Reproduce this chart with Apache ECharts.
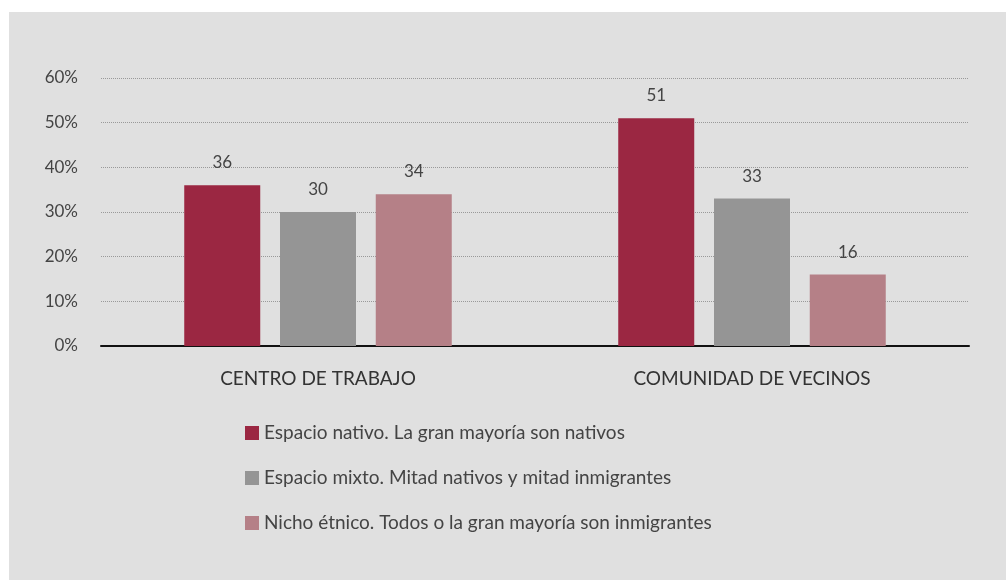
<!DOCTYPE html>
<html>
<head>
<meta charset="utf-8">
<script src="https://cdn.jsdelivr.net/npm/echarts@6/dist/echarts.min.js"></script>
<style>
html, body { margin: 0; padding: 0; background: #fff; }
#panel { position: absolute; left: 9px; top: 12px; width: 997px; height: 568px; background: #e0e0e0; }
</style>
</head>
<body>
<div id="panel"></div>
<script>
var categories = ['CENTRO DE TRABAJO', 'COMUNIDAD DE VECINOS'];
var seriesNames = [
    'Espacio nativo. La gran mayoría son nativos',
    'Espacio mixto. Mitad nativos y mitad inmigrantes',
    'Nicho étnico. Todos o la gran mayoría son inmigrantes'
];
var nativo = [36, 51];
var mixto = [30, 33];
var nicho = [34, 16];
var colors = ['#9b2742', '#959595', '#b58087'];

var values = [nativo, mixto, nicho];
var series = [];
for (var i = 0; i < seriesNames.length; i++) {
    series.push({
        name: seriesNames[i],
        type: 'bar',
        barWidth: 76,
        barGap: '26%',
        data: values[i],
        itemStyle: { color: colors[i] },
        label: {
            show: true,
            position: 'top',
            distance: 14,
            color: '#444',
            fontSize: 17,
            fontFamily: 'Lato'
        }
    });
}

var chart = echarts.init(document.getElementById('panel'));
chart.setOption({
    animation: false,
    color: colors,
    textStyle: { fontFamily: 'Lato' },
    grid: { left: 92, right: 37, top: 66, bottom: 234 },
    legend: {
        orient: 'vertical',
        left: 231,
        top: 406,
        itemWidth: 14,
        itemHeight: 14,
        itemGap: 25,
        icon: 'rect',
        textStyle: { color: '#444', fontSize: 19, lineHeight: 20, fontFamily: 'Lato' },
        data: seriesNames
    },
    xAxis: {
        type: 'category',
        data: categories,
        axisLine: { lineStyle: { color: '#111', width: 2 } },
        axisTick: { show: false },
        axisLabel: { color: '#333', fontSize: 19, margin: 23 }
    },
    yAxis: {
        type: 'value',
        min: 0,
        max: 60,
        interval: 10,
        axisLine: { show: false },
        axisTick: { show: false },
        axisLabel: {
            color: '#444',
            fontSize: 17,
            margin: 23,
            formatter: function (v) { return v + '%'; }
        },
        splitLine: { lineStyle: { color: '#999', type: [1, 1], width: 1 } }
    },
    series: series
});
</script>
</body>
</html>
